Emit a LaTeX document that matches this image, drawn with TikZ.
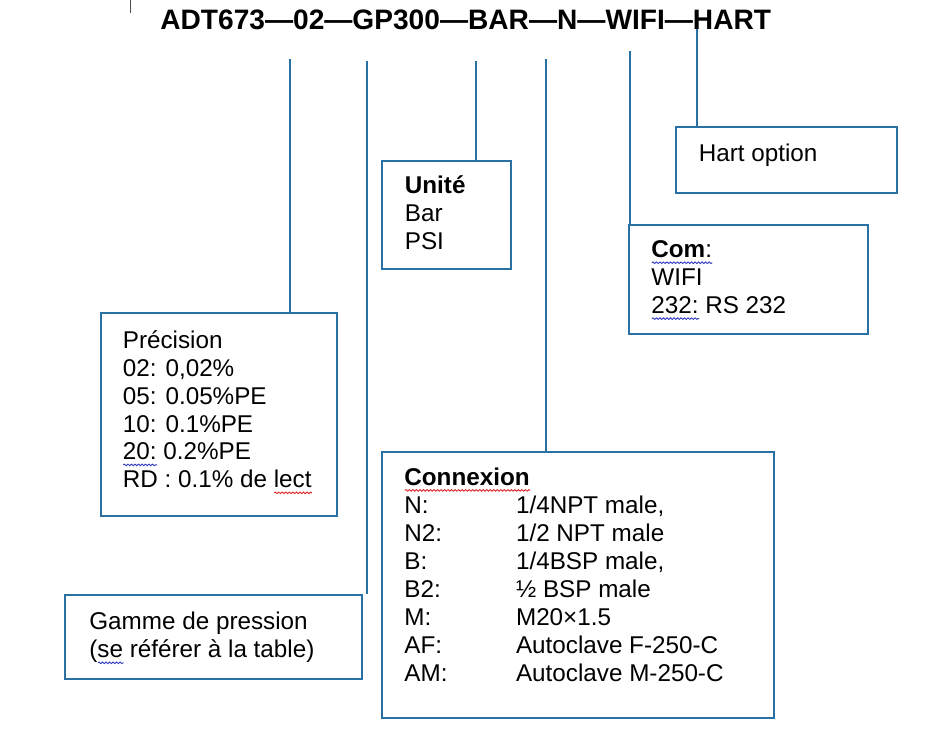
\documentclass[tikz,border=0pt]{standalone}
\usepackage{fontspec}
\setmainfont{Liberation Sans}
\usetikzlibrary{positioning,fit,decorations.pathmorphing}
\definecolor{boxblue}{RGB}{41,113,164}
\definecolor{spellred}{RGB}{222,34,34}
\definecolor{spellblue}{RGB}{44,56,190}
\tikzstyle{box} = [draw=boxblue, line width=1.1pt, inner sep=0pt]
\tikzstyle{txt} = [inner sep=0pt, align=left,
    font={\fontsize{13.8pt}{15.9pt}\selectfont}, execute at begin node={\rule{0pt}{13pt}}]
\tikzstyle{code} = [inner sep=0pt, font={\bfseries\fontsize{16pt}{18pt}\selectfont}]
\tikzstyle{link} = [draw=boxblue, line width=1.1pt]
\newsavebox{\spellbox}
\newcommand{\spellmark}[2]{\sbox{\spellbox}{#2}%
  \rlap{\tikz[baseline=0pt]\draw[#1, line width=0.5pt, decorate,
    decoration={snake, amplitude=0.45pt, segment length=2pt}]
    (0pt,-2.8pt) -- (\wd\spellbox,-2.8pt);}\usebox{\spellbox}}
\newcommand{\connkey}[1]{\makebox[2.234cm][l]{#1}}

\begin{document}
\begin{tikzpicture}[x=0.02cm, y=-0.02cm]
    \useasboundingbox (0,0) rectangle (945,731);

    \draw [black!70, line width=0.5pt] (130,0) -- (130,13);
    \node [code, anchor=base west] (ref) at (160,29) {ADT673—02—GP300—BAR—N—WIFI—HART};

    \node [box, fit={(676,127) (897,193)}] (hart) {};
    \node [box, fit={(629,225) (868,334)}] (com) {};
    \node [box, fit={(382,161) (511,269)}] (unite) {};
    \node [box, fit={(101,313) (337,516)}] (precision) {};
    \node [box, fit={(382,452) (774,718)}] (connexion) {};
    \node [box, fit={(65,595) (362,679)}] (gamme) {};

    \node [txt, below right=0.24cm and 0.47cm of hart.north west] (hart_t) {Hart option};
    \node [txt, below right=0.33cm and 0.46cm of com.north west] (com_t)
        {\spellmark{spellblue}{\textbf{Com}:}\\ WIFI\\ \spellmark{spellblue}{232:} RS 232};
    \node [txt, below right=0.3cm and 0.47cm of unite.north west] (unite_t)
        {\textbf{Unité}\\ Bar\\ PSI};
    \node [txt, below right=0.36cm and 0.45cm of precision.north west] (precision_t)
        {Précision\\ 02: 0,02\%\\ 05: 0.05\%PE\\ 10: 0.1\%PE\\
        \spellmark{spellblue}{20:} 0.2\%PE\\ RD : 0.1\% de \spellmark{spellred}{lect}};
    \node [txt, below right=0.33cm and 0.46cm of connexion.north west] (connexion_t)
        {\textbf{\spellmark{spellred}{Connexion}}\\
        \connkey{N:}1/4NPT male,\\
        \connkey{N2:}1/2 NPT male\\
        \connkey{B:}1/4BSP male,\\
        \connkey{B2:}½ BSP male\\
        \connkey{M:}M20×1.5\\
        \connkey{AF:}Autoclave F-250-C\\
        \connkey{AM:}Autoclave M-250-C};
    \node [txt, below right=0.36cm and 0.5cm of gamme.north west] (gamme_t)
        {Gamme de pression\\ (\spellmark{spellblue}{se} référer à la table)};

    \coordinate (p_top) at (290,59);
    \coordinate (g_top) at (367,61);
    \coordinate (u_top) at (476,61);
    \coordinate (n_top) at (546,59);
    \coordinate (c_top) at (630,51);
    \coordinate (h_top) at (697,29);

    \draw [link] (p_top) -- (p_top |- precision.north);
    \draw [link] (g_top) -- (g_top |- gamme.north);
    \draw [link] (u_top) -- (u_top |- unite.north);
    \draw [link] (n_top) -- (n_top |- connexion.north);
    \draw [link] (c_top) -- (c_top |- com.north);
    \draw [link] (h_top) -- (h_top |- hart.north);
\end{tikzpicture}
\end{document}
